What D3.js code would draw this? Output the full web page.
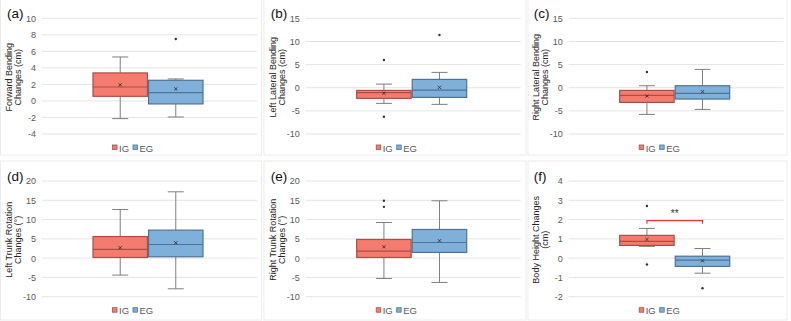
<!DOCTYPE html>
<html><head><meta charset="utf-8">
<script src="https://cdn.jsdelivr.net/npm/d3@7"></script>
<style>body{margin:0;background:#fff}svg{display:block}</style>
</head><body>
<script>
const panelLabels = ["(a)","(b)","(c)","(d)","(e)","(f)"];
const yTitles = [
  ["Forward Bending","Changes (cm)"],
  ["Left Lateral Bending","Changes (cm)"],
  ["Right Lateral Bending","Changes (cm)"],
  ["Left Trunk Rotation","Changes (°)"],
  ["Right Trunk Rotation","Changes (°)"],
  ["Body Height Changes","(cm)"]
];
const yTicks = [
  [-4,-2,0,2,4,6,8,10],
  [-10,-5,0,5,10,15],
  [-10,-5,0,5,10,15],
  [-10,-5,0,5,10,15,20],
  [-10,-5,0,5,10,15,20],
  [-2,-1,0,1,2,3,4]
];
const groups = ["IG","EG"];
// [whiskerLow, Q1, median, Q3, whiskerHigh, mean]
const igStats = [
  [-2.14,0.56,1.69,3.39,5.32,1.95],
  [-3.39,-2.3,-1.08,-0.58,0.79,-1.2],
  [-5.76,-3.17,-1.66,-0.58,0.43,-1.8],
  [-4.4,0.17,2.25,5.6,12.6,2.7],
  [-5.27,0.17,1.8,4.84,9.25,2.94],
  [0.61,0.66,0.87,1.18,1.54,0.97]
];
const egStats = [
  [-1.94,-0.36,1.0,2.5,2.66,1.45],
  [-3.6,-2.09,-0.5,1.8,3.31,0.07],
  [-4.68,-2.45,-1.22,0.43,3.96,-0.86],
  [-7.95,0.35,3.54,7.26,17.2,3.98],
  [-6.3,1.47,4.06,7.43,14.87,4.5],
  [-0.78,-0.43,-0.1,0.1,0.5,-0.14]
];
const igOutliers = [[], [6.0,-6.27], [3.39], [], [14.87,13.3], [2.7,-0.33]];
const egOutliers = [[7.5], [11.4], [], [], [], [-1.56]];
const sigPanel = 5, sigValue = 1.94, sigText = "**";

const fills = {IG:"#F47C6F", EG:"#7EB0DA"};
const strokes = {IG:"#A94F47", EG:"#4F7395"};

const W = 791, H = 321;
const FONT = "'Liberation Sans', Arial, sans-serif";
const svg = d3.select("body").append("svg").attr("width",W).attr("height",H)
  .style("font-family",FONT);

const colX = [0, 263.7, 526.7];
const rowY = [0, 162.7];
const plotL = 42, plotR = 257, plotT = 18.3, plotB = 134;

// faint panel frames
const frames = [[0.5,-1,261,156],[264,-1,262,156],[528,-1,259,156],
                [0.5,161,261,159],[264,161,262,159],[528,161,259,159]];
frames.forEach(f=>svg.append("rect").attr("x",f[0]).attr("y",f[1]).attr("width",f[2]).attr("height",f[3])
  .attr("fill","none").attr("stroke","#ececec").attr("stroke-width",1));

for (let p=0;p<6;p++){
  const ox = colX[p%3], oy = rowY[Math.floor(p/3)];
  const g = svg.append("g").attr("transform",`translate(${ox},${oy})`);
  const ticks = yTicks[p];
  const y = d3.scaleLinear().domain([d3.min(ticks), d3.max(ticks)]).range([plotB, plotT]);
  const mid = (plotL+plotR)/2;
  const x = d3.scaleBand().domain(groups).range([mid-56.5, mid+53.5]).paddingInner(0.02).paddingOuter(0);
  // gridlines
  g.append("g").selectAll("line").data(ticks).join("line")
    .attr("x1",plotL).attr("x2",plotR).attr("y1",d=>y(d)).attr("y2",d=>y(d))
    .attr("stroke","#e4e4e4").attr("stroke-width",1);
  // axis labels
  const ax = g.append("g").attr("transform",`translate(${plotL},0)`)
    .call(d3.axisLeft(y).tickValues(ticks).tickFormat(d=>String(d)).tickSize(0).tickPadding(6));
  ax.select(".domain").remove();
  ax.selectAll("text").attr("fill","#595959").style("font-size","9px")
    .style("font-family",FONT);
  // panel label
  g.append("text").attr("x",7).attr("y",18).text(panelLabels[p])
    .attr("fill","#111").style("font-size","13.5px");
  // y title
  const cy = (plotT+plotB)/2 + 1;
  const t = g.append("text").attr("transform",`translate(14,${cy}) rotate(-90)`)
    .attr("text-anchor","middle").attr("fill","#262626").style("font-size","9px");
  t.append("tspan").attr("x",0).attr("dy","-0.2em").text(yTitles[p][0]);
  t.append("tspan").attr("x",0).attr("dy","1.0em").text(yTitles[p][1]);

  const bw = x.bandwidth(), capW = 16;
  groups.forEach(gr=>{
    const s = gr==="IG" ? igStats[p] : egStats[p];
    const outs = gr==="IG" ? igOutliers[p] : egOutliers[p];
    const cx = x(gr)+bw/2;
    const [lo,q1,md,q3,hi,mn] = s;
    const wc = "#7f7f7f";
    g.append("line").attr("x1",cx).attr("x2",cx).attr("y1",y(hi)).attr("y2",y(q3)).attr("stroke",wc);
    g.append("line").attr("x1",cx).attr("x2",cx).attr("y1",y(q1)).attr("y2",y(lo)).attr("stroke",wc);
    g.append("line").attr("x1",cx-capW/2).attr("x2",cx+capW/2).attr("y1",y(hi)).attr("y2",y(hi)).attr("stroke",wc);
    g.append("line").attr("x1",cx-capW/2).attr("x2",cx+capW/2).attr("y1",y(lo)).attr("y2",y(lo)).attr("stroke",wc);
    g.append("rect").attr("x",x(gr)).attr("width",bw).attr("y",y(q3)).attr("height",y(q1)-y(q3))
      .attr("fill",fills[gr]).attr("stroke",strokes[gr]).attr("stroke-width",1.2);
    g.append("line").attr("x1",x(gr)).attr("x2",x(gr)+bw).attr("y1",y(md)).attr("y2",y(md))
      .attr("stroke",strokes[gr]).attr("stroke-width",1.2);
    // mean marker x
    const my = y(mn), r = 1.6;
    g.append("path").attr("d",`M${cx-r},${my-r}L${cx+r},${my+r}M${cx-r},${my+r}L${cx+r},${my-r}`)
      .attr("stroke","#333").attr("stroke-width",0.9);
    g.selectAll(null).data(outs).join("circle").attr("cx",cx).attr("cy",d=>y(d)).attr("r",1.2)
      .attr("fill","#333");
  });

  if (p===sigPanel){
    const x1 = x("IG")+bw/2, x2 = x("EG")+bw/2, sy = y(sigValue);
    g.append("path").attr("d",`M${x1},${sy+3}V${sy}H${x2}V${sy+3}`).attr("fill","none")
      .attr("stroke","#E8383D").attr("stroke-width",1.2);
    g.append("text").attr("x",(x1+x2)/2).attr("y",sy-4).attr("text-anchor","middle")
      .attr("fill","#333").style("font-size","10px").text(sigText);
  }

  // legend
  const ly = 148;
  const lg = g.append("g");
  const items = [{k:"IG",x:112.5},{k:"EG",x:133}];
  items.forEach(it=>{
    lg.append("rect").attr("x",it.x).attr("y",ly-3).attr("width",4.5).attr("height",4.5)
      .attr("fill",fills[it.k]).attr("stroke",strokes[it.k]).attr("stroke-width",0.8);
    lg.append("text").attr("x",it.x+6.5).attr("y",ly+3.5).text(it.k).attr("fill","#595959")
      .style("font-size","9.5px");
  });
}
</script>
</body></html>
